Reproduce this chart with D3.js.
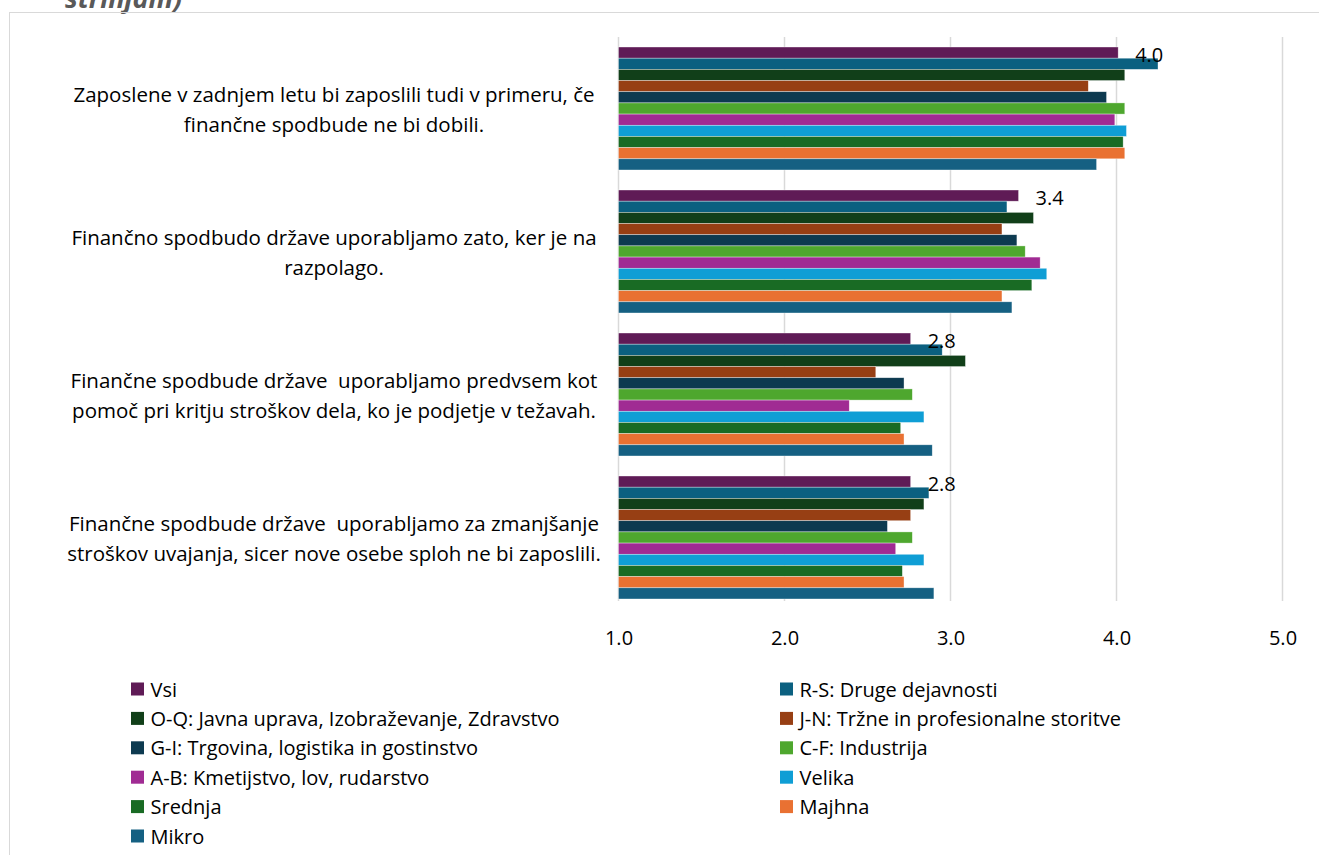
<!DOCTYPE html>
<html>
<head>
<meta charset="utf-8">
<script src="https://cdn.jsdelivr.net/npm/d3@7"></script>
<style>
  html, body { margin: 0; padding: 0; background: #fff; }
  svg { display: block; }
  text { font-family: "Open Sans", "Noto Sans", sans-serif; }
</style>
</head>
<body>
<svg id="chart" width="1319" height="855"></svg>
<script>
// ---- data ----
const categoryLines = [
  ["Zaposlene v zadnjem letu bi zaposlili tudi v primeru, če", "finančne spodbude ne bi dobili."],
  ["Finančno spodbudo države uporabljamo zato, ker je na", "razpolago."],
  ["Finančne spodbude države  uporabljamo predvsem kot", "pomoč pri kritju stroškov dela, ko je podjetje v težavah."],
  ["Finančne spodbude države  uporabljamo za zmanjšanje", "stroškov uvajanja, sicer nove osebe sploh ne bi zaposlili."]
];
const seriesNames = [
  "Vsi",
  "R-S: Druge dejavnosti",
  "O-Q: Javna uprava, Izobraževanje, Zdravstvo",
  "J-N: Tržne in profesionalne storitve",
  "G-I: Trgovina, logistika in gostinstvo",
  "C-F: Industrija",
  "A-B: Kmetijstvo, lov, rudarstvo",
  "Velika",
  "Srednja",
  "Majhna",
  "Mikro"
];
const seriesColors = [
  "#5f1b56", "#0b6080", "#113f19", "#973f14", "#0d3a50",
  "#4ea72e", "#a02b93", "#0f9ed5", "#196b24", "#e97132", "#156082"
];
// values per series, one per category (in category order)
const vsi        = [4.01, 3.41, 2.76, 2.76];
const rs         = [4.25, 3.34, 2.95, 2.87];
const oq         = [4.05, 3.50, 3.09, 2.84];
const jn         = [3.83, 3.31, 2.55, 2.76];
const gi         = [3.94, 3.40, 2.72, 2.62];
const cf         = [4.05, 3.45, 2.77, 2.77];
const ab         = [3.99, 3.54, 2.39, 2.67];
const velika     = [4.06, 3.58, 2.84, 2.84];
const srednja    = [4.04, 3.49, 2.70, 2.71];
const majhna     = [4.05, 3.31, 2.72, 2.72];
const mikro      = [3.88, 3.37, 2.89, 2.90];
const seriesValues = [vsi, rs, oq, jn, gi, cf, ab, velika, srednja, majhna, mikro];
const xTicks = [1, 2, 3, 4, 5];
const headerText = "strinjam)";

// ---- drawing ----
const svg = d3.select("#chart");

// partially visible header text from above
svg.append("text")
  .attr("x", 65).attr("y", 8)
  .attr("font-size", 27).attr("font-weight", "bold").attr("font-style", "italic")
  .attr("fill", "#595959")
  .text(headerText);

// chart frame
svg.append("rect")
  .attr("x", 9.5).attr("y", 12.5).attr("width", 1330).attr("height", 860)
  .attr("fill", "none").attr("stroke", "#d9d9d9").attr("stroke-width", 1);

const x = d3.scaleLinear().domain([1, 5]).range([618.5, 1282.5]);
const catIdx = d3.range(categoryLines.length);
const y = d3.scaleBand().domain(catIdx).range([37, 609]).paddingInner(0.14).paddingOuter(0.07);
const yInner = d3.scaleBand().domain(d3.range(seriesNames.length)).range([0, y.bandwidth()]);

// gridlines
svg.append("g").selectAll("line").data(xTicks).join("line")
  .attr("x1", d => x(d)).attr("x2", d => x(d))
  .attr("y1", 37).attr("y2", 601)
  .attr("stroke", "#d9d9d9").attr("stroke-width", 1.5);

// bars
const groups = svg.append("g").selectAll("g").data(catIdx).join("g")
  .attr("transform", c => `translate(0,${y(c)})`);
groups.selectAll("rect")
  .data(c => seriesValues.map((vals, s) => ({ s, v: vals[c] })))
  .join("rect")
  .attr("x", x(1))
  .attr("y", d => yInner(d.s))
  .attr("width", d => x(d.v) - x(1))
  .attr("height", yInner.bandwidth())
  .attr("fill", d => seriesColors[d.s])
  .attr("stroke", "#ffffff").attr("stroke-opacity", 0.6).attr("stroke-width", 0.6);

// value labels for "Vsi"
svg.append("g").selectAll("text").data(catIdx).join("text")
  .attr("x", c => x(vsi[c]) + 17)
  .attr("y", c => y(c) + yInner(0) + yInner.bandwidth() / 2 + 2)
  .attr("dominant-baseline", "central")
  .attr("font-size", 20).attr("fill", "#000")
  .text(c => d3.format(".1f")(vsi[c]));

// x axis tick labels
const xAxis = d3.axisBottom(x).tickValues(xTicks).tickFormat(d3.format(".1f")).tickSize(0).tickPadding(0);
const ax = svg.append("g").attr("transform", "translate(0,637)").call(xAxis);
ax.select(".domain").remove();
ax.selectAll("text").attr("font-size", 20).attr("fill", "#000")
  .attr("font-family", "'Open Sans', sans-serif").attr("dy", null)
  .attr("y", 0).attr("dominant-baseline", "central");

// category labels
const catG = svg.append("g").selectAll("text").data(catIdx).join("text")
  .attr("x", 334)
  .attr("text-anchor", "middle")
  .attr("dominant-baseline", "central")
  .attr("xml:space", "preserve")
  .attr("font-size", 20.5).attr("fill", "#000")
  .attr("y", c => y(c) + y.bandwidth() / 2);
catG.selectAll("tspan").data(c => categoryLines[c].map((t, i) => ({ t, i }))).join("tspan")
  .attr("x", 334)
  .attr("dy", d => d.i === 0 ? -15 : 30)
  .text(d => d.t);

// legend
const legRowY = d3.scalePoint().domain(d3.range(6)).range([689, 836]);
const legColX = [131, 780];
const leg = svg.append("g").selectAll("g").data(seriesNames).join("g")
  .attr("transform", (d, i) => `translate(${legColX[i % 2]},${legRowY(Math.floor(i / 2))})`);
leg.append("rect").attr("x", 0).attr("y", -6.5).attr("width", 13).attr("height", 13)
  .attr("fill", (d, i) => seriesColors[i]);
leg.append("text").attr("x", 19.5).attr("y", 0).attr("dominant-baseline", "central")
  .attr("font-size", 20).attr("fill", "#000").text(d => d);
</script>
</body>
</html>
